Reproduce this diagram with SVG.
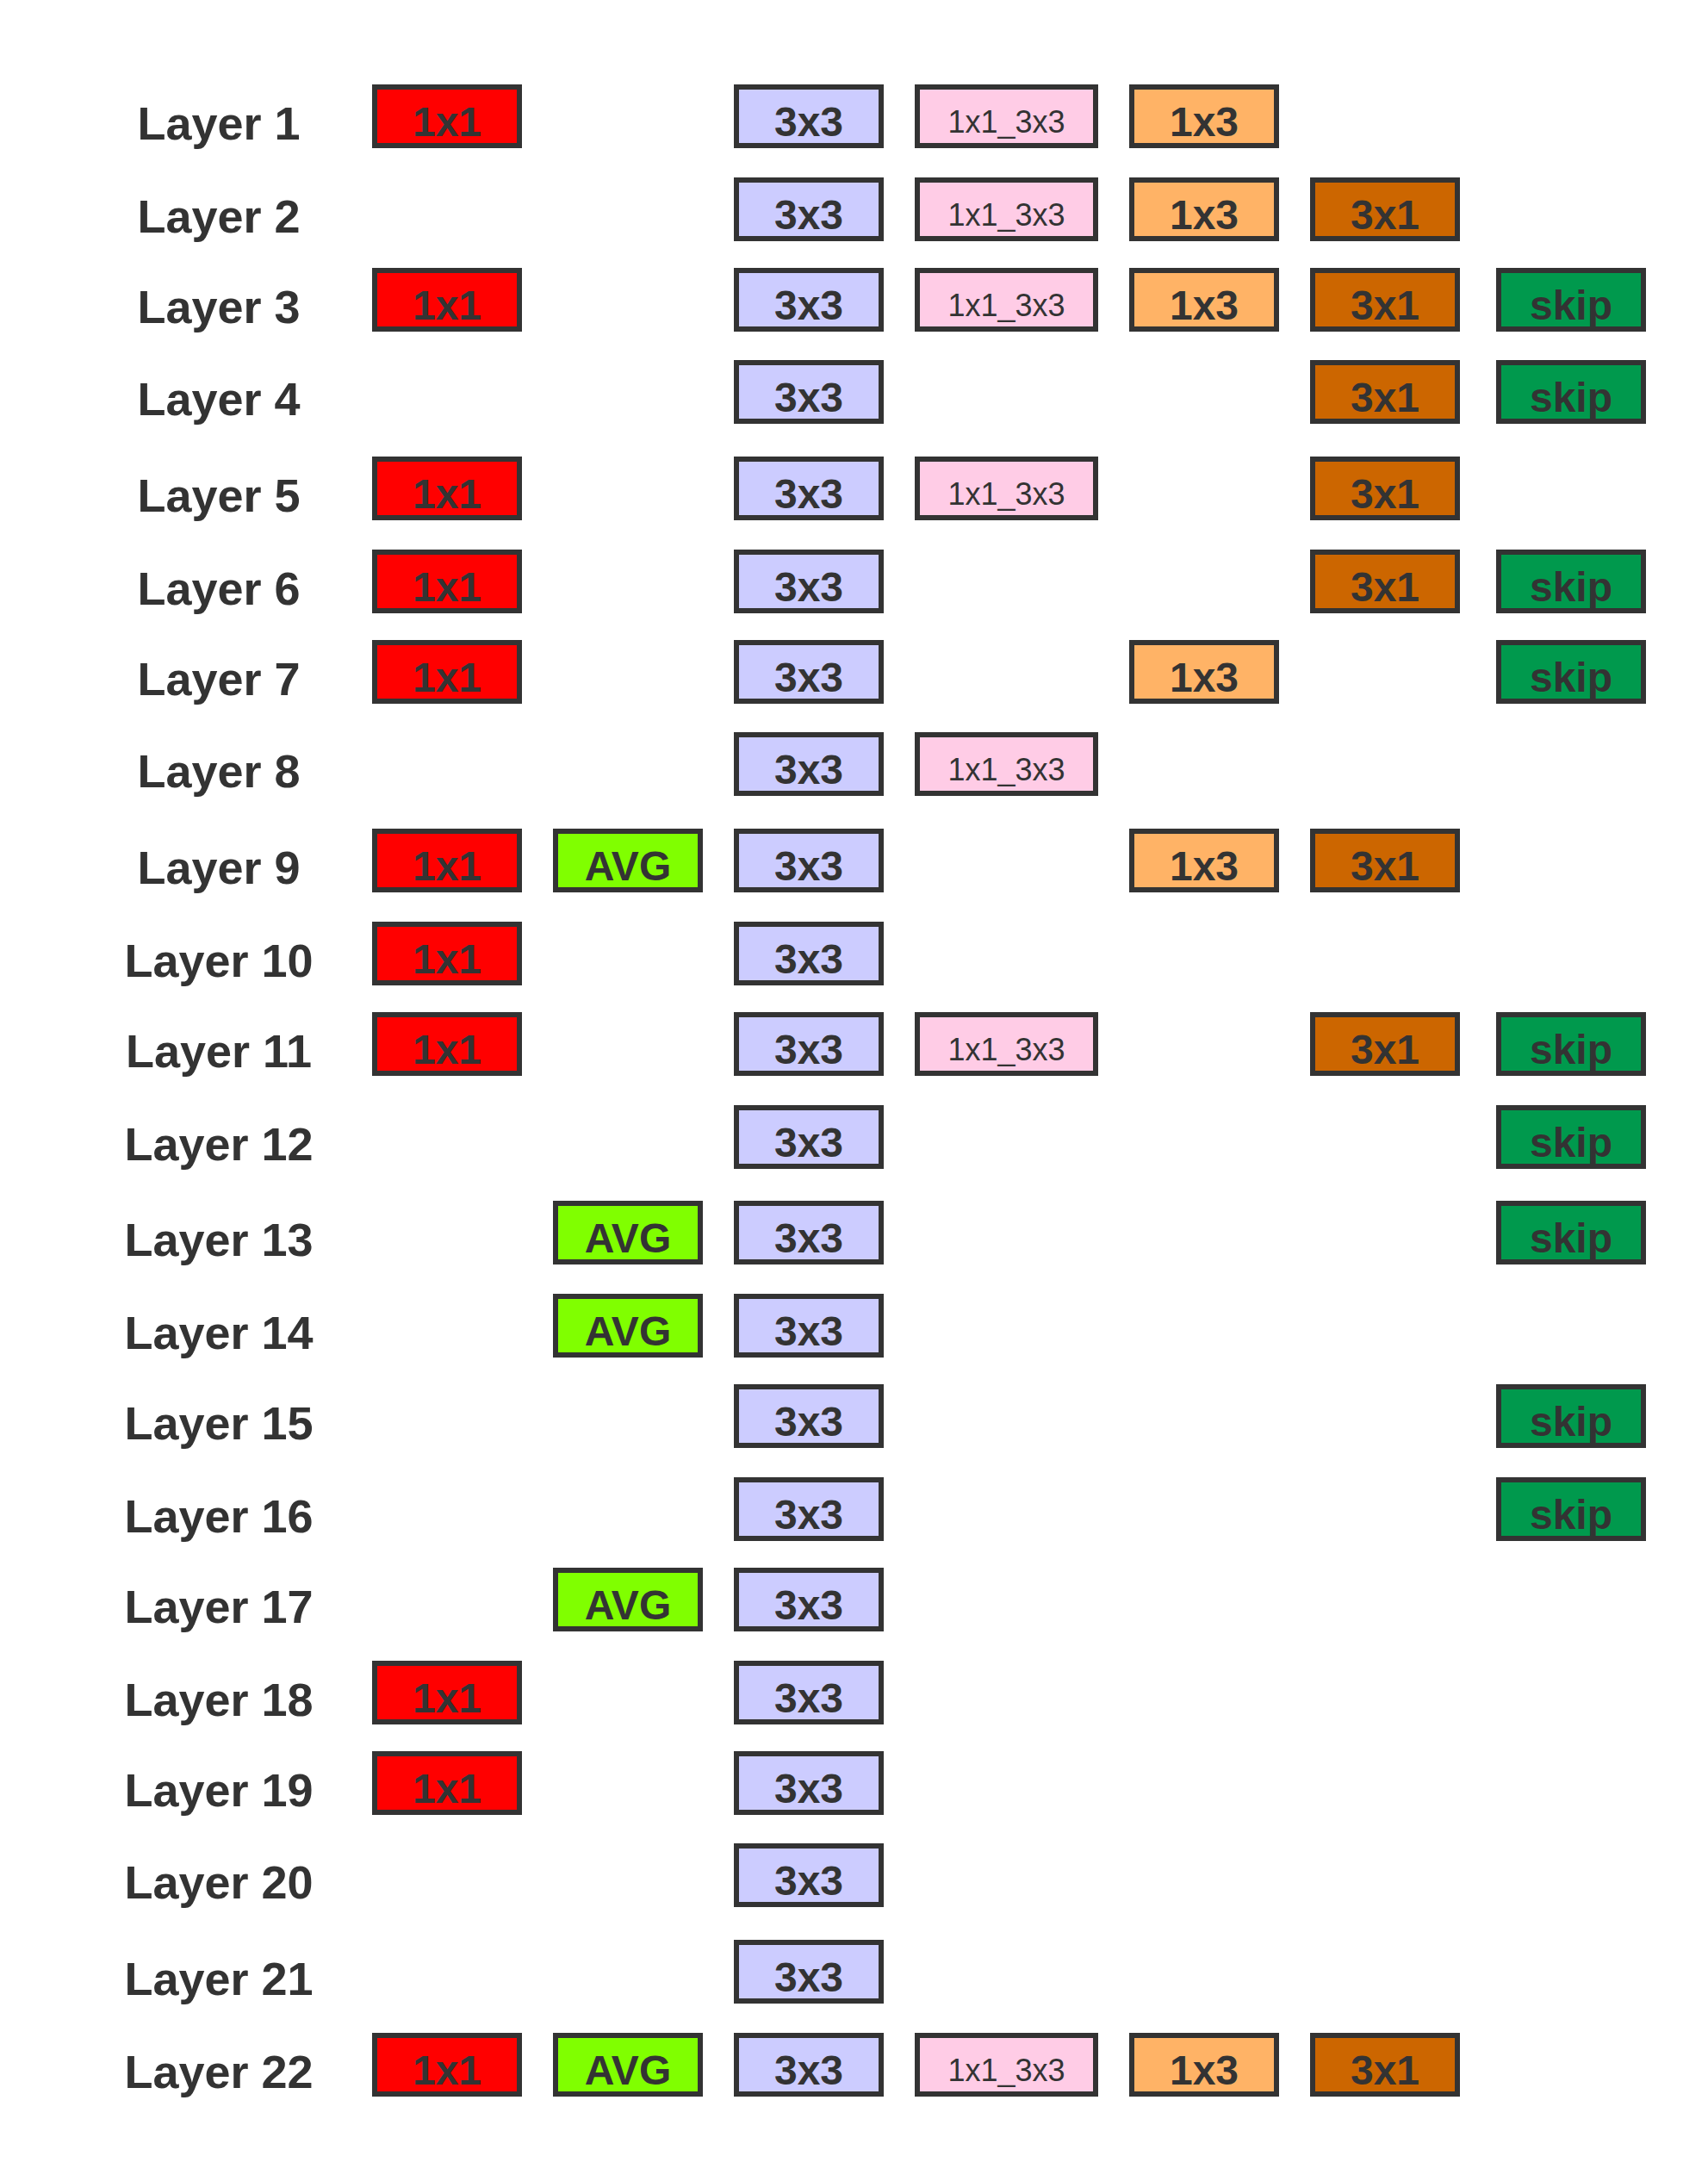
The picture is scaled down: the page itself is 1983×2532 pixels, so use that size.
<svg xmlns="http://www.w3.org/2000/svg" width="1983" height="2532" viewBox="0 0 1983 2532">
<style>
.b{stroke:#333333;stroke-width:6}
.r{fill:#FF0000}.g{fill:#80FF00}.v{fill:#CCCCFF}.p{fill:#FFCCE6}.o{fill:#FFB366}.br{fill:#CC6600}.s{fill:#00994D}
.t{font-family:"Liberation Sans",Arial,sans-serif;font-weight:bold;font-size:48px;fill:#333333;text-anchor:middle}
.tp{font-family:"Liberation Sans",Arial,sans-serif;font-weight:normal;font-size:36px;fill:#333333;text-anchor:middle}
.l{font-family:"Liberation Sans",Arial,sans-serif;font-weight:bold;font-size:54px;fill:#333333;text-anchor:middle}
</style>
<rect width="1983" height="2532" fill="#ffffff"/>
<defs>
<rect id="w" width="168" height="68"/>
<rect id="wp" width="207" height="68"/>
</defs>

<g id="row1">
<text class="l" x="254" y="162">Layer 1</text>
<g id="r1-1x1"><use href="#w" x="435" y="101" class="b r"/><text class="t" x="519" y="158">1x1</text></g>
<g id="r1-3x3"><use href="#w" x="855" y="101" class="b v"/><text class="t" x="939" y="158">3x3</text></g>
<g id="r1-1x1_3x3"><use href="#wp" x="1065" y="101" class="b p"/><text class="tp" x="1168.5" y="154">1x1_3x3</text></g>
<g id="r1-1x3"><use href="#w" x="1314" y="101" class="b o"/><text class="t" x="1398" y="158">1x3</text></g>
</g>

<g id="row2">
<text class="l" x="254" y="270">Layer 2</text>
<g id="r2-3x3"><use href="#w" x="855" y="209" class="b v"/><text class="t" x="939" y="266">3x3</text></g>
<g id="r2-1x1_3x3"><use href="#wp" x="1065" y="209" class="b p"/><text class="tp" x="1168.5" y="262">1x1_3x3</text></g>
<g id="r2-1x3"><use href="#w" x="1314" y="209" class="b o"/><text class="t" x="1398" y="266">1x3</text></g>
<g id="r2-3x1"><use href="#w" x="1524" y="209" class="b br"/><text class="t" x="1608" y="266">3x1</text></g>
</g>

<g id="row3">
<text class="l" x="254" y="375">Layer 3</text>
<g id="r3-1x1"><use href="#w" x="435" y="314" class="b r"/><text class="t" x="519" y="371">1x1</text></g>
<g id="r3-3x3"><use href="#w" x="855" y="314" class="b v"/><text class="t" x="939" y="371">3x3</text></g>
<g id="r3-1x1_3x3"><use href="#wp" x="1065" y="314" class="b p"/><text class="tp" x="1168.5" y="367">1x1_3x3</text></g>
<g id="r3-1x3"><use href="#w" x="1314" y="314" class="b o"/><text class="t" x="1398" y="371">1x3</text></g>
<g id="r3-3x1"><use href="#w" x="1524" y="314" class="b br"/><text class="t" x="1608" y="371">3x1</text></g>
<g id="r3-skip"><use href="#w" x="1740" y="314" class="b s"/><text class="t" x="1824" y="371">skip</text></g>
</g>

<g id="row4">
<text class="l" x="254" y="482">Layer 4</text>
<g id="r4-3x3"><use href="#w" x="855" y="421" class="b v"/><text class="t" x="939" y="478">3x3</text></g>
<g id="r4-3x1"><use href="#w" x="1524" y="421" class="b br"/><text class="t" x="1608" y="478">3x1</text></g>
<g id="r4-skip"><use href="#w" x="1740" y="421" class="b s"/><text class="t" x="1824" y="478">skip</text></g>
</g>

<g id="row5">
<text class="l" x="254" y="594">Layer 5</text>
<g id="r5-1x1"><use href="#w" x="435" y="533" class="b r"/><text class="t" x="519" y="590">1x1</text></g>
<g id="r5-3x3"><use href="#w" x="855" y="533" class="b v"/><text class="t" x="939" y="590">3x3</text></g>
<g id="r5-1x1_3x3"><use href="#wp" x="1065" y="533" class="b p"/><text class="tp" x="1168.5" y="586">1x1_3x3</text></g>
<g id="r5-3x1"><use href="#w" x="1524" y="533" class="b br"/><text class="t" x="1608" y="590">3x1</text></g>
</g>

<g id="row6">
<text class="l" x="254" y="702">Layer 6</text>
<g id="r6-1x1"><use href="#w" x="435" y="641" class="b r"/><text class="t" x="519" y="698">1x1</text></g>
<g id="r6-3x3"><use href="#w" x="855" y="641" class="b v"/><text class="t" x="939" y="698">3x3</text></g>
<g id="r6-3x1"><use href="#w" x="1524" y="641" class="b br"/><text class="t" x="1608" y="698">3x1</text></g>
<g id="r6-skip"><use href="#w" x="1740" y="641" class="b s"/><text class="t" x="1824" y="698">skip</text></g>
</g>

<g id="row7">
<text class="l" x="254" y="807">Layer 7</text>
<g id="r7-1x1"><use href="#w" x="435" y="746" class="b r"/><text class="t" x="519" y="803">1x1</text></g>
<g id="r7-3x3"><use href="#w" x="855" y="746" class="b v"/><text class="t" x="939" y="803">3x3</text></g>
<g id="r7-1x3"><use href="#w" x="1314" y="746" class="b o"/><text class="t" x="1398" y="803">1x3</text></g>
<g id="r7-skip"><use href="#w" x="1740" y="746" class="b s"/><text class="t" x="1824" y="803">skip</text></g>
</g>

<g id="row8">
<text class="l" x="254" y="914">Layer 8</text>
<g id="r8-3x3"><use href="#w" x="855" y="853" class="b v"/><text class="t" x="939" y="910">3x3</text></g>
<g id="r8-1x1_3x3"><use href="#wp" x="1065" y="853" class="b p"/><text class="tp" x="1168.5" y="906">1x1_3x3</text></g>
</g>

<g id="row9">
<text class="l" x="254" y="1026">Layer 9</text>
<g id="r9-1x1"><use href="#w" x="435" y="965" class="b r"/><text class="t" x="519" y="1022">1x1</text></g>
<g id="r9-avg"><use href="#w" x="645" y="965" class="b g"/><text class="t" x="729" y="1022">AVG</text></g>
<g id="r9-3x3"><use href="#w" x="855" y="965" class="b v"/><text class="t" x="939" y="1022">3x3</text></g>
<g id="r9-1x3"><use href="#w" x="1314" y="965" class="b o"/><text class="t" x="1398" y="1022">1x3</text></g>
<g id="r9-3x1"><use href="#w" x="1524" y="965" class="b br"/><text class="t" x="1608" y="1022">3x1</text></g>
</g>

<g id="row10">
<text class="l" x="254" y="1134">Layer 10</text>
<g id="r10-1x1"><use href="#w" x="435" y="1073" class="b r"/><text class="t" x="519" y="1130">1x1</text></g>
<g id="r10-3x3"><use href="#w" x="855" y="1073" class="b v"/><text class="t" x="939" y="1130">3x3</text></g>
</g>

<g id="row11">
<text class="l" x="254" y="1239">Layer 11</text>
<g id="r11-1x1"><use href="#w" x="435" y="1178" class="b r"/><text class="t" x="519" y="1235">1x1</text></g>
<g id="r11-3x3"><use href="#w" x="855" y="1178" class="b v"/><text class="t" x="939" y="1235">3x3</text></g>
<g id="r11-1x1_3x3"><use href="#wp" x="1065" y="1178" class="b p"/><text class="tp" x="1168.5" y="1231">1x1_3x3</text></g>
<g id="r11-3x1"><use href="#w" x="1524" y="1178" class="b br"/><text class="t" x="1608" y="1235">3x1</text></g>
<g id="r11-skip"><use href="#w" x="1740" y="1178" class="b s"/><text class="t" x="1824" y="1235">skip</text></g>
</g>

<g id="row12">
<text class="l" x="254" y="1347">Layer 12</text>
<g id="r12-3x3"><use href="#w" x="855" y="1286" class="b v"/><text class="t" x="939" y="1343">3x3</text></g>
<g id="r12-skip"><use href="#w" x="1740" y="1286" class="b s"/><text class="t" x="1824" y="1343">skip</text></g>
</g>

<g id="row13">
<text class="l" x="254" y="1458">Layer 13</text>
<g id="r13-avg"><use href="#w" x="645" y="1397" class="b g"/><text class="t" x="729" y="1454">AVG</text></g>
<g id="r13-3x3"><use href="#w" x="855" y="1397" class="b v"/><text class="t" x="939" y="1454">3x3</text></g>
<g id="r13-skip"><use href="#w" x="1740" y="1397" class="b s"/><text class="t" x="1824" y="1454">skip</text></g>
</g>

<g id="row14">
<text class="l" x="254" y="1566">Layer 14</text>
<g id="r14-avg"><use href="#w" x="645" y="1505" class="b g"/><text class="t" x="729" y="1562">AVG</text></g>
<g id="r14-3x3"><use href="#w" x="855" y="1505" class="b v"/><text class="t" x="939" y="1562">3x3</text></g>
</g>

<g id="row15">
<text class="l" x="254" y="1671">Layer 15</text>
<g id="r15-3x3"><use href="#w" x="855" y="1610" class="b v"/><text class="t" x="939" y="1667">3x3</text></g>
<g id="r15-skip"><use href="#w" x="1740" y="1610" class="b s"/><text class="t" x="1824" y="1667">skip</text></g>
</g>

<g id="row16">
<text class="l" x="254" y="1779">Layer 16</text>
<g id="r16-3x3"><use href="#w" x="855" y="1718" class="b v"/><text class="t" x="939" y="1775">3x3</text></g>
<g id="r16-skip"><use href="#w" x="1740" y="1718" class="b s"/><text class="t" x="1824" y="1775">skip</text></g>
</g>

<g id="row17">
<text class="l" x="254" y="1884">Layer 17</text>
<g id="r17-avg"><use href="#w" x="645" y="1823" class="b g"/><text class="t" x="729" y="1880">AVG</text></g>
<g id="r17-3x3"><use href="#w" x="855" y="1823" class="b v"/><text class="t" x="939" y="1880">3x3</text></g>
</g>

<g id="row18">
<text class="l" x="254" y="1992">Layer 18</text>
<g id="r18-1x1"><use href="#w" x="435" y="1931" class="b r"/><text class="t" x="519" y="1988">1x1</text></g>
<g id="r18-3x3"><use href="#w" x="855" y="1931" class="b v"/><text class="t" x="939" y="1988">3x3</text></g>
</g>

<g id="row19">
<text class="l" x="254" y="2097">Layer 19</text>
<g id="r19-1x1"><use href="#w" x="435" y="2036" class="b r"/><text class="t" x="519" y="2093">1x1</text></g>
<g id="r19-3x3"><use href="#w" x="855" y="2036" class="b v"/><text class="t" x="939" y="2093">3x3</text></g>
</g>

<g id="row20">
<text class="l" x="254" y="2204">Layer 20</text>
<g id="r20-3x3"><use href="#w" x="855" y="2143" class="b v"/><text class="t" x="939" y="2200">3x3</text></g>
</g>

<g id="row21">
<text class="l" x="254" y="2316">Layer 21</text>
<g id="r21-3x3"><use href="#w" x="855" y="2255" class="b v"/><text class="t" x="939" y="2312">3x3</text></g>
</g>

<g id="row22">
<text class="l" x="254" y="2424">Layer 22</text>
<g id="r22-1x1"><use href="#w" x="435" y="2363" class="b r"/><text class="t" x="519" y="2420">1x1</text></g>
<g id="r22-avg"><use href="#w" x="645" y="2363" class="b g"/><text class="t" x="729" y="2420">AVG</text></g>
<g id="r22-3x3"><use href="#w" x="855" y="2363" class="b v"/><text class="t" x="939" y="2420">3x3</text></g>
<g id="r22-1x1_3x3"><use href="#wp" x="1065" y="2363" class="b p"/><text class="tp" x="1168.5" y="2416">1x1_3x3</text></g>
<g id="r22-1x3"><use href="#w" x="1314" y="2363" class="b o"/><text class="t" x="1398" y="2420">1x3</text></g>
<g id="r22-3x1"><use href="#w" x="1524" y="2363" class="b br"/><text class="t" x="1608" y="2420">3x1</text></g>
</g>
</svg>
